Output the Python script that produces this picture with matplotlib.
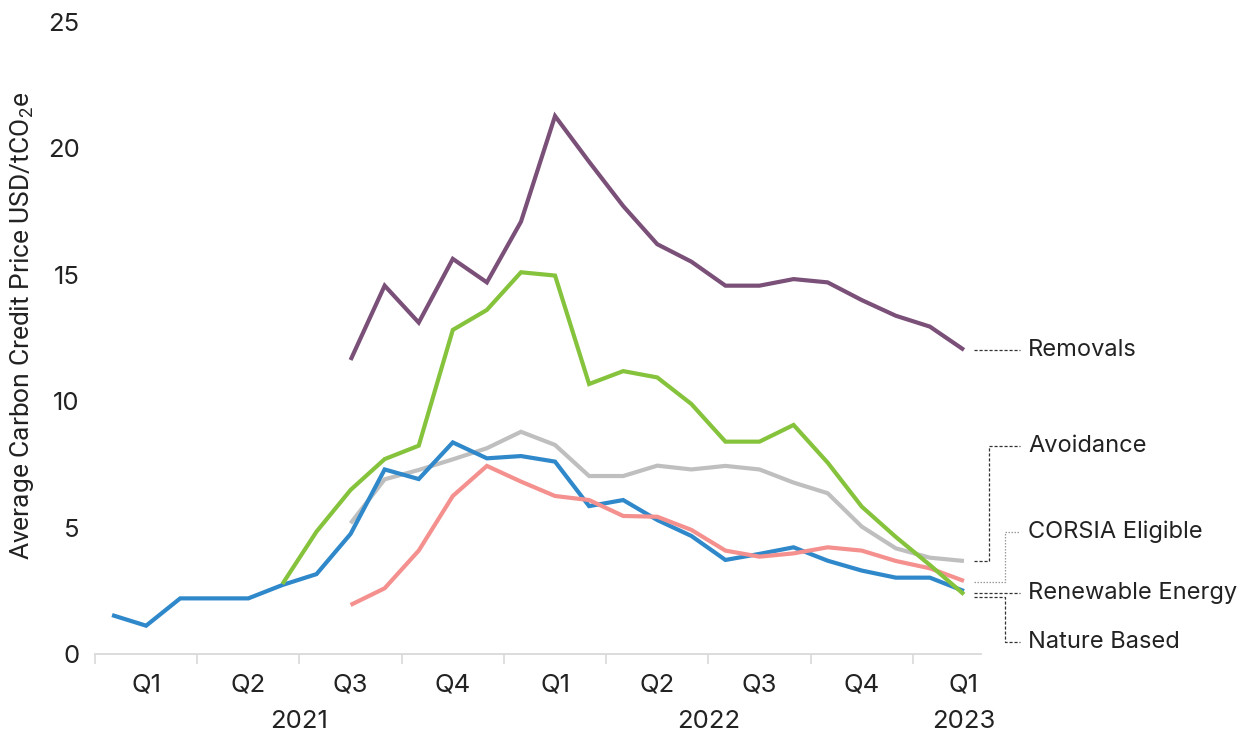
import matplotlib
matplotlib.use("Agg")
import matplotlib.pyplot as plt
import numpy as np

plt.rcParams['font.family'] = ['Inter', 'DejaVu Sans']
plt.rcParams['mathtext.fontset'] = 'custom'
plt.rcParams['mathtext.rm'] = 'Roboto'
plt.rcParams['mathtext.it'] = 'Roboto'

nan = np.nan
# Monthly observations, Jan 2021 .. Feb 2023
renewable = [1.54, 1.12, 2.20, 2.20, 2.20, 2.73, 3.16, 4.75, 7.30, 6.92, 8.37, 7.74, 7.83,
             7.61, 5.85, 6.09, 5.30, 4.67, 3.72, 3.96, 4.22, 3.69, 3.30, 3.02, 3.02, 2.49]
nature = [nan] * 5 + [2.77, 4.84, 6.49, 7.71, 8.24, 12.82, 13.61, 15.10, 14.97, 10.68, 11.19,
                      10.94, 9.89, 8.40, 8.40, 9.06, 7.57, 5.83, 4.63, 3.52, 2.36]
avoidance = [nan] * 7 + [5.17, 6.91, 7.28, 7.70, 8.14, 8.79, 8.27, 7.04, 7.04, 7.45, 7.30,
                         7.44, 7.30, 6.78, 6.36, 5.04, 4.18, 3.81, 3.68]
corsia = [nan] * 7 + [1.94, 2.60, 4.09, 6.25, 7.44, 6.82, 6.25, 6.09, 5.46, 5.43, 4.91,
                      4.09, 3.85, 3.98, 4.22, 4.09, 3.68, 3.39, 2.89]
removals = [nan] * 7 + [11.63, 14.57, 13.11, 15.63, 14.70, 17.10, 21.28, 19.47, 17.72, 16.21,
                        15.52, 14.57, 14.57, 14.83, 14.70, 14.00, 13.38, 12.95, 12.03]

quarter_labels = ['Q1', 'Q2', 'Q3', 'Q4', 'Q1', 'Q2', 'Q3', 'Q4', 'Q1']
year_labels = ['2021', '2022', '2023']
year_pos = [6.0, 18.0, 25.5]
yticks = [0, 5, 10, 15, 20, 25]

series_names = ['Removals', 'Avoidance', 'CORSIA Eligible', 'Renewable Energy', 'Nature Based']
colors = {'Removals': '#7A5079', 'Avoidance': '#BFBFBF', 'CORSIA Eligible': '#F4908E',
          'Renewable Energy': '#2F88CA', 'Nature Based': '#86C33C'}
data = {'Removals': removals, 'Avoidance': avoidance, 'CORSIA Eligible': corsia,
        'Renewable Energy': renewable, 'Nature Based': nature}

x = np.arange(len(renewable)) + 0.5

fig = plt.figure(figsize=(12.39, 7.36), dpi=100)
ax = fig.add_axes([95 / 1239, 1 - 654 / 736, (981 - 95) / 1239, (654 - 22) / 736])

draw_order = ['Avoidance', 'Renewable Energy', 'CORSIA Eligible', 'Nature Based', 'Removals']
for z, name in enumerate(draw_order):
    ax.plot(x, data[name], color=colors[name], lw=3.0, solid_joinstyle='miter',
            solid_capstyle='butt', zorder=3 + z)

ax.set_xlim(0, 26)
ax.set_ylim(0, 25)
for s in ['left', 'top', 'right']:
    ax.spines[s].set_visible(False)
ax.spines['bottom'].set_color('#D9D9D9')
ax.spines['bottom'].set_linewidth(1.3)

ax.set_xticks(np.arange(0, 25, 3))
ax.set_xticklabels([])
ax.tick_params(axis='x', which='major', length=7, width=1.2, color='#D9D9D9')
ax.set_xticks(np.arange(1.5, 26, 3), minor=True)
ax.set_xticklabels(quarter_labels, minor=True)
ax.tick_params(axis='x', which='minor', length=0, pad=14, labelsize=18.5, labelcolor='#222222')

ax.set_yticks(yticks)
ax.set_yticklabels([str(v) for v in yticks])
ax.tick_params(axis='y', length=0, pad=11, labelsize=18.5, labelcolor='#222222')

for lab, pos in zip(year_labels, year_pos):
    ax.text(pos, -0.107, lab, transform=ax.get_xaxis_transform(), ha='center', va='center',
            fontsize=18.5, color='#222222')

fig.text(0.018, 1 - 326 / 736, 'Average Carbon Credit Price USD/tCO$_2$e', rotation=90,
         ha='center', va='center', fontsize=19, color='#222222', family='Roboto')

# Direct labels with leader lines
x0, xa, xc, xt, xl = 25.8, 26.23, 26.7, 27.14, 27.38
label_y = {'Removals': 12.03, 'Avoidance': 8.23, 'CORSIA Eligible': 4.84,
           'Renewable Energy': 2.42, 'Nature Based': 0.49}
line_y = {'Removals': 12.03, 'Avoidance': 3.68, 'CORSIA Eligible': 2.86,
          'Renewable Energy': 2.42, 'Nature Based': 2.27}
dash = dict(color='#333333', lw=0.9, ls=(0, (2.5, 1.5)), clip_on=False)
dot = dict(color='#999999', lw=0.9, ls=(0, (1.2, 1.2)), clip_on=False)

ax.plot([x0, xt], [line_y['Removals']] * 2, **dash)
ax.plot([x0, xa, xa, xt], [line_y['Avoidance'], line_y['Avoidance'], label_y['Avoidance'],
                           label_y['Avoidance']], **dash)
ax.plot([x0, xc, xc, xt], [line_y['CORSIA Eligible'], line_y['CORSIA Eligible'],
                           label_y['CORSIA Eligible'], label_y['CORSIA Eligible']], **dot)
ax.plot([x0, xt], [line_y['Renewable Energy']] * 2, **dash)
ax.plot([x0, xc, xc, xt], [line_y['Nature Based'], line_y['Nature Based'],
                           label_y['Nature Based'], label_y['Nature Based']], **dash)

for name in series_names:
    ax.text(xl, label_y[name], name, ha='left', va='center', fontsize=17, color='#222222',
            clip_on=False)

fig.savefig('out.png', dpi=100)
